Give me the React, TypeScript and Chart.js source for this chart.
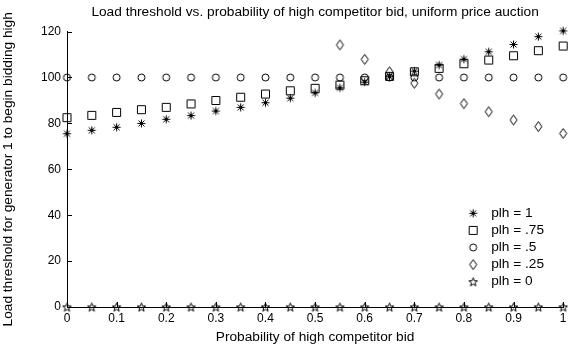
import React, { useEffect, useRef } from 'react';
import { Chart, registerables } from 'chart.js';

Chart.register(...registerables);

// Probability of a high competitor bid (x) and load thresholds per plh level (y)
const bidProbability = [0, 0.05, 0.1, 0.15, 0.2, 0.25, 0.3, 0.35, 0.4, 0.45, 0.5, 0.55, 0.6, 0.65, 0.7, 0.75, 0.8, 0.85, 0.9, 0.95, 1];
const thresholdPlh1 = [75.5, 77, 78.3, 80, 81.8, 83.4, 85.4, 87, 89, 91, 93.3, 95.5, 98, 100.3, 102.8, 105.4, 108, 111.2, 114.4, 117.8, 120.3];
const thresholdPlh075 = [82.5, 83.5, 84.8, 86, 87, 88.5, 90, 91.4, 92.8, 94.2, 95.3, 96.7, 98.6, 100.5, 102.5, 104, 106, 107.6, 109.5, 111.7, 113.7];
const thresholdPlh05 = [100, 100, 100, 100, 100, 100, 100, 100, 100, 100, 100, 100, 100, 100, 100, 100, 100, 100, 100, 100, 100];
const thresholdPlh025 = [null, null, null, null, null, null, null, null, null, null, null, 114.2, 107.9, 102.5, 97.5, 92.8, 88.6, 85.1, 81.5, 78.6, 75.6];
const thresholdPlh0 = [0, 0, 0, 0, 0, 0, 0, 0, 0, 0, 0, 0, 0, 0, 0, 0, 0, 0, 0, 0, 0];

const seriesLabels = ['plh = 1', 'plh = .75', 'plh = .5', 'plh = .25', 'plh = 0'];
const seriesMarkers = ['asterisk', 'square', 'circle', 'diamond', 'pentagram'];

const xTickValues = [0, 0.1, 0.2, 0.3, 0.4, 0.5, 0.6, 0.7, 0.8, 0.9, 1];
const xTickLabels = ['0', '0.1', '0.2', '0.3', '0.4', '0.5', '0.6', '0.7', '0.8', '0.9', '1'];
const yTickValues = [0, 20, 40, 60, 80, 100, 120];

const chartTitle = 'Load threshold vs. probability of high competitor bid, uniform price auction';
const xTitle = 'Probability of high competitor bid';
const yTitle = 'Load threshold for generator 1 to begin bidding high';

const FONT_FAMILY = '"Liberation Sans", Arial, Helvetica, sans-serif';
const INK = '#000';
const LABEL_SIZE = 13.7;

// Small offscreen canvases used as point styles (MATLAB-like markers)
function makeMarker(kind: string): HTMLCanvasElement {
  const w = 11;
  const h = kind === 'diamond' ? 13 : 11;
  const c = document.createElement('canvas');
  c.width = w;
  c.height = h;
  const g = c.getContext('2d') as CanvasRenderingContext2D;
  const cx = w / 2;
  const cy = h / 2;
  g.strokeStyle = INK;
  g.lineWidth = 1;
  g.beginPath();
  if (kind === 'asterisk') {
    g.moveTo(cx - 4, cy); g.lineTo(cx + 4, cy);
    g.moveTo(cx, cy - 4); g.lineTo(cx, cy + 4);
    g.moveTo(cx - 3, cy - 3); g.lineTo(cx + 3, cy + 3);
    g.moveTo(cx - 3, cy + 3); g.lineTo(cx + 3, cy - 3);
    g.stroke();
    g.fillStyle = INK;
    g.fillRect(cx - 1.5, cy - 1.5, 3, 3);
  } else if (kind === 'square') {
    g.rect(cx - 4, cy - 4, 8, 8);
    g.stroke();
  } else if (kind === 'circle') {
    g.arc(cx, cy, 3.5, 0, Math.PI * 2);
    g.stroke();
  } else if (kind === 'diamond') {
    g.moveTo(cx, cy - 5);
    g.lineTo(cx + 3.5, cy);
    g.lineTo(cx, cy + 5);
    g.lineTo(cx - 3.5, cy);
    g.closePath();
    g.stroke();
  } else {
    const outer = 4.5;
    const inner = 1.9;
    for (let k = 0; k < 10; k++) {
      const r = k % 2 === 0 ? outer : inner;
      const a = -Math.PI / 2 + (k * Math.PI) / 5;
      const px = cx + r * Math.cos(a);
      const py = cy + 0.5 + r * Math.sin(a);
      if (k === 0) g.moveTo(px, py); else g.lineTo(px, py);
    }
    g.closePath();
    g.stroke();
  }
  return c;
}

// Tick marks drawn on the inside of the left and bottom axes
const inwardTicks = {
  id: 'inwardTicks',
  beforeDatasetsDraw(chart: any) {
    const { ctx, chartArea: a, scales } = chart;
    ctx.save();
    ctx.strokeStyle = INK;
    ctx.lineWidth = 1;
    ctx.beginPath();
    for (const v of yTickValues) {
      const py = Math.round(scales.y.getPixelForValue(v)) + 0.5;
      ctx.moveTo(a.left, py);
      ctx.lineTo(a.left + 5, py);
    }
    for (const v of xTickValues) {
      const px = Math.round(scales.x.getPixelForValue(v)) + 0.5;
      ctx.moveTo(px, a.bottom);
      ctx.lineTo(px, a.bottom - 5);
    }
    ctx.stroke();
    ctx.restore();
  },
};

// Title centred over the plot area rather than the whole canvas
const plotTitle = {
  id: 'plotTitle',
  afterDraw(chart: any) {
    const { ctx, chartArea: a } = chart;
    ctx.save();
    ctx.font = `${LABEL_SIZE}px ${FONT_FAMILY}`;
    ctx.fillStyle = INK;
    ctx.textAlign = 'center';
    ctx.textBaseline = 'middle';
    ctx.fillText(chartTitle, (a.left + a.right) / 2, a.top - 19.5);
    ctx.restore();
  },
};

// Borderless legend placed in the lower right of the plot area
const insideLegend = {
  id: 'insideLegend',
  afterDatasetsDraw(chart: any) {
    const { ctx, chartArea: a } = chart;
    const datasets = chart.data.datasets;
    const rowH = 17.1;
    const n = datasets.length;
    ctx.save();
    ctx.font = `${LABEL_SIZE}px ${FONT_FAMILY}`;
    ctx.fillStyle = INK;
    ctx.textAlign = 'left';
    ctx.textBaseline = 'middle';
    datasets.forEach((ds: any, i: number) => {
      const cy = a.bottom - 25.3 - (n - 1 - i) * rowH;
      const mk = ds.pointStyle as HTMLCanvasElement;
      ctx.drawImage(mk, a.right - 90 - mk.width / 2, cy - mk.height / 2);
      ctx.fillText(ds.label, a.right - 72, cy);
    });
    ctx.restore();
  },
};

export default function App() {
  const canvasRef = useRef<HTMLCanvasElement | null>(null);

  useEffect(() => {
    const canvas = canvasRef.current;
    if (!canvas) return;

    const seriesValues = [thresholdPlh1, thresholdPlh075, thresholdPlh05, thresholdPlh025, thresholdPlh0];
    const datasets = seriesValues.map((vals, i) => ({
      label: seriesLabels[i],
      data: bidProbability.map((p, j) => ({ x: p, y: vals[j] })).filter((pt) => pt.y !== null),
      pointStyle: makeMarker(seriesMarkers[i]),
      pointRadius: 5,
      showLine: false,
      clip: false as any,
      borderColor: INK,
      backgroundColor: 'transparent',
    }));

    const tickFont = { family: FONT_FAMILY, size: 12, weight: 'normal' as any };
    const labelFont = { family: FONT_FAMILY, size: LABEL_SIZE, weight: 'normal' as any };

    const chart = new Chart(canvas, {
      type: 'scatter',
      data: { datasets: datasets as any },
      options: {
        responsive: false,
        animation: false,
        events: [],
        layout: { padding: { left: 0, right: 7, top: 31.6, bottom: 0 } },
        plugins: {
          legend: { display: false },
          tooltip: { enabled: false },
          title: { display: false },
        },
        scales: {
          x: {
            type: 'linear',
            min: 0,
            max: 1,
            afterBuildTicks: (s: any) => {
              s.ticks = xTickValues.map((v) => ({ value: v }));
            },
            afterFit: (s: any) => {
              s.height = 42;
            },
            grid: { display: false, drawTicks: false },
            border: { display: true, color: INK, width: 1 },
            ticks: {
              color: INK,
              font: tickFont,
              padding: 4.5,
              maxRotation: 0,
              autoSkip: false,
              callback: (_v: any, i: number) => xTickLabels[i],
            },
            title: {
              display: true,
              text: xTitle,
              color: INK,
              font: labelFont,
              padding: { top: 0, bottom: 3.3 },
            },
          },
          y: {
            type: 'linear',
            min: 0,
            max: 120,
            afterBuildTicks: (s: any) => {
              s.ticks = yTickValues.map((v) => ({ value: v }));
            },
            afterFit: (s: any) => {
              s.width = 67;
            },
            grid: { display: false, drawTicks: false },
            border: { display: true, color: INK, width: 1 },
            ticks: { color: INK, font: tickFont, padding: 6 },
            title: {
              display: true,
              text: yTitle,
              color: INK,
              font: labelFont,
              padding: { top: 0, bottom: 0 },
            },
          },
        },
      },
      plugins: [inwardTicks, insideLegend, plotTitle],
    });

    return () => chart.destroy();
  }, []);

  return (
    <div style={{ position: 'fixed', left: 0, top: 0, width: 571, height: 349, background: '#fff' }}>
      <canvas ref={canvasRef} width={571} height={349} style={{ display: 'block', width: 571, height: 349 }} />
    </div>
  );
}
